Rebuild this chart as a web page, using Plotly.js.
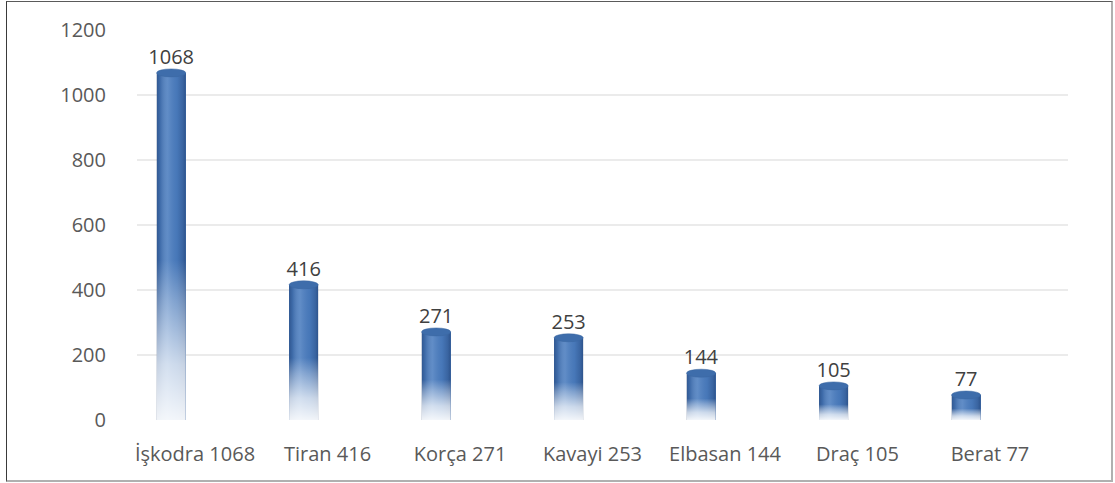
<!DOCTYPE html>
<html>
<head>
<meta charset="utf-8">
<script src="https://cdn.plot.ly/plotly-3.0.1.min.js"></script>
<style>
  html, body { margin: 0; padding: 0; background: #fff; }
  #wrap { position: relative; width: 1115px; height: 483px; }
  #chart { position: absolute; left: 0; top: 0; width: 1115px; height: 483px; }
  #frame { position: absolute; left: 6px; top: 1px; width: 1104px; height: 478px;
           border-left: 1.5px solid #3a3a3a; border-top: 1.5px solid #5a5a5a;
           border-right: 2px solid #b0b0b0; border-bottom: 2px solid #b0b0b0; pointer-events: none; }
</style>
</head>
<body>
<div id="wrap"><div id="chart"></div><div id="frame"></div></div>
<script>
// ---- data ----
const categories = ["İşkodra", "Tiran", "Korça", "Kavayi", "Elbasan", "Draç", "Berat"];
const values = [1068, 416, 271, 253, 144, 105, 77];
const tickLabels = ["İşkodra 1068", "Tiran 416", "Korça 271", "Kavayi 253", "Elbasan 144", "Draç 105", "Berat 77"];
const yTicks = [0, 200, 400, 600, 800, 1000, 1200];

// ---- style / geometry (not data) ----
const FONT = "Open Sans, Noto Sans, sans-serif";
const BAR_W = 0.22;        // bar width in category units
const BAR_SHIFT = -0.18;   // 3D perspective shift of the bar relative to its label
const BAR_OFF = BAR_SHIFT - BAR_W / 2;
const FADE = 0.46;         // lower part of the bar that fades to white

const idx = categories.map((_, i) => i);

const traces = [];
// base bars
traces.push({
  type: "bar",
  x: idx,
  y: values,
  width: BAR_W,
  offset: BAR_OFF,
  marker: { color: "#4b7dbf", line: { width: 0 } },
  text: values.map(String),
  textposition: "outside",
  constraintext: "none",
  textfont: { family: FONT, size: 20, color: "#404040" },
  outsidetextfont: { family: FONT, size: 20, color: "#404040" },
  cliponaxis: false,
  hoverinfo: "x+y",
  showlegend: false
});

// cylinder shading (horizontal) and white fade (vertical) overlays, derived from the data
values.forEach((v, i) => {
  const x0 = i + BAR_OFF, x1 = x0 + BAR_W;
  traces.push({
    type: "scatter", mode: "lines", showlegend: false, hoverinfo: "skip",
    x: [x0, x1, x1, x0, x0], y: [0, 0, v, v, 0],
    line: { width: 0 }, fill: "toself",
    fillgradient: {
      type: "horizontal", start: x0, stop: x1,
      colorscale: [[0, "rgba(25,55,105,0.55)"], [0.12, "rgba(25,55,105,0.25)"],
                   [0.38, "rgba(255,255,255,0.12)"], [0.7, "rgba(25,55,105,0.08)"],
                   [0.9, "rgba(25,55,105,0.35)"], [1, "rgba(25,55,105,0.6)"]]
    }
  });
  const top = v * FADE;
  traces.push({
    type: "scatter", mode: "lines", showlegend: false, hoverinfo: "skip",
    x: [x0, x1, x1, x0, x0], y: [0, 0, top, top, 0],
    line: { width: 0 }, fill: "toself",
    fillgradient: {
      type: "vertical", start: 0, stop: top,
      colorscale: [[0, "rgba(255,255,255,0.93)"], [0.35, "rgba(255,255,255,0.72)"],
                   [0.75, "rgba(255,255,255,0.3)"], [1, "rgba(255,255,255,0)"]]
    }
  });
});

// elliptical caps on top of each cylinder
const shapes = values.map((v, i) => ({
  type: "circle", xref: "x", yref: "y",
  x0: i + BAR_OFF, x1: i + BAR_OFF + BAR_W,
  ysizemode: "pixel", yanchor: v, y0: -4, y1: 4,
  fillcolor: "#3e6dab", line: { color: "#3a66a0", width: 0.5 }, layer: "above"
}));

const layout = {
  width: 1115, height: 483,
  margin: { l: 137, r: 47, t: 30, b: 63 },
  paper_bgcolor: "#ffffff", plot_bgcolor: "#ffffff",
  font: { family: FONT, size: 20, color: "#595959" },
  showlegend: false,
  bargap: 0,
  xaxis: {
    range: [-0.438, 6.589],
    tickvals: idx, ticktext: tickLabels,
    showgrid: false, zeroline: false, showline: false,
    ticks: "", ticklabelstandoff: 20,
    tickfont: { family: FONT, size: 20, color: "#595959" },
    fixedrange: true
  },
  yaxis: {
    range: [0, 1200],
    tickvals: yTicks,
    showgrid: true, gridcolor: "#ebebeb", gridwidth: 2,
    zeroline: false, showline: false,
    ticks: "", ticklabelstandoff: 30,
    tickfont: { family: FONT, size: 20, color: "#595959" },
    fixedrange: true
  },
  shapes: shapes
};

Plotly.newPlot("chart", traces, layout, { displayModeBar: false, staticPlot: true });
</script>
</body>
</html>
